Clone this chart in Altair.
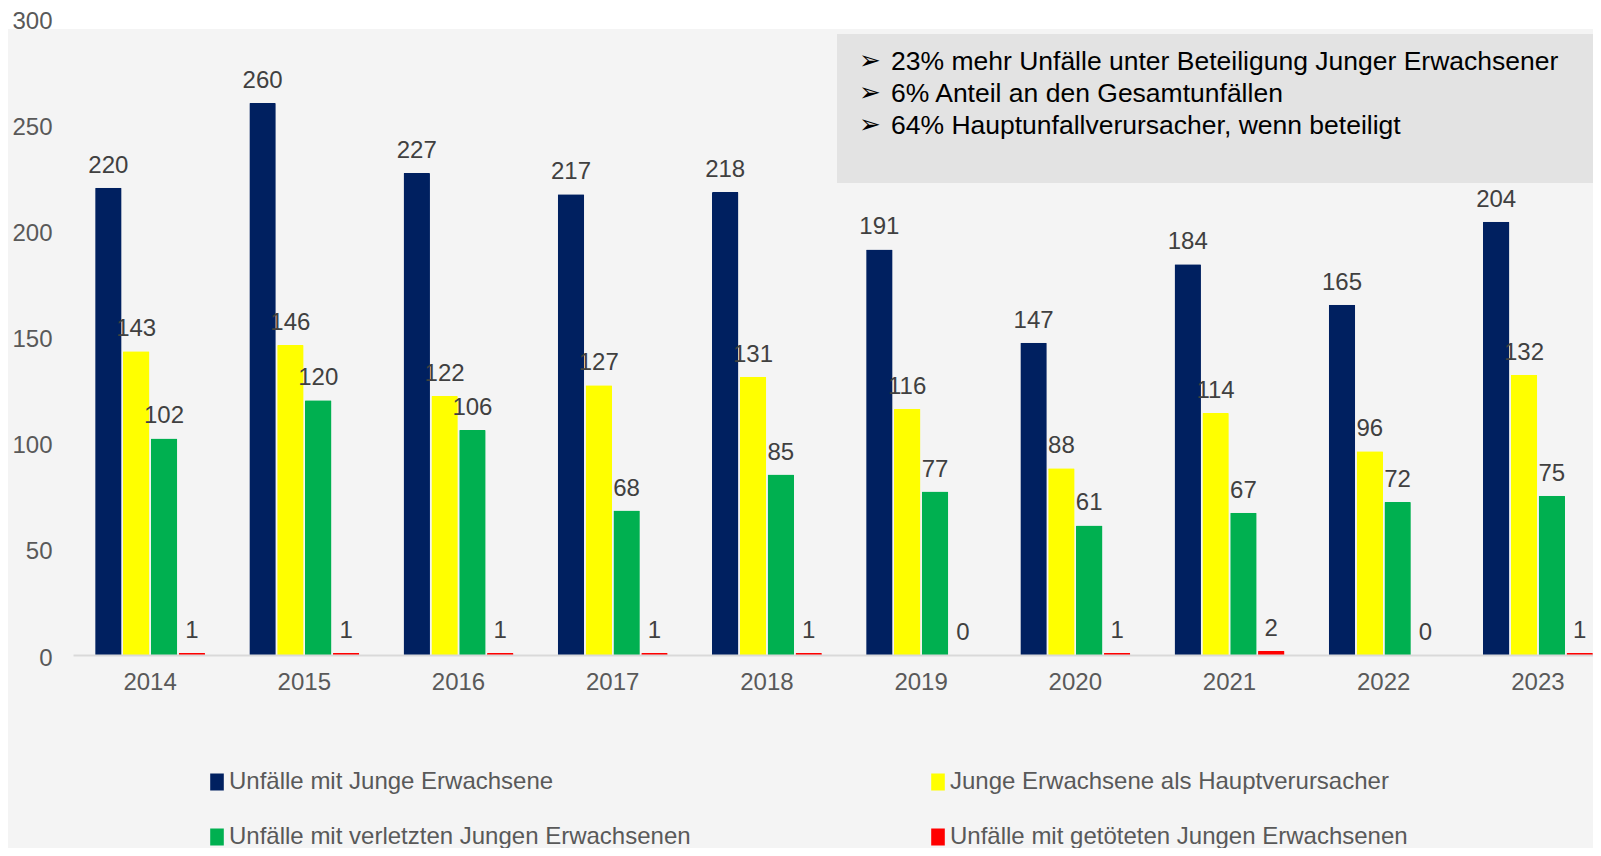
import altair as alt
import pandas as pd

YEARS = ["2014", "2015", "2016", "2017", "2018", "2019", "2020", "2021", "2022", "2023"]
SERIES = [
    "Unfälle mit Junge Erwachsene",
    "Junge Erwachsene als Hauptverursacher",
    "Unfälle mit verletzten Jungen Erwachsenen",
    "Unfälle mit getöteten Jungen Erwachsenen",
]
COLORS = ["#002060", "#FFFF00", "#00B050", "#FF0000"]
UNFAELLE = [220, 260, 227, 217, 218, 191, 147, 184, 165, 204]
HAUPTVERURSACHER = [143, 146, 122, 127, 131, 116, 88, 114, 96, 132]
VERLETZT = [102, 120, 106, 68, 85, 77, 61, 67, 72, 75]
GETOETET = [1, 1, 1, 1, 1, 0, 1, 2, 0, 1]
Y_TICKS = [0, 50, 100, 150, 200, 250, 300]
ANNOT_LINES = [
    "23% mehr Unfälle unter Beteiligung Junger Erwachsener",
    "6% Anteil an den Gesamtunfällen",
    "64% Hauptunfallverursacher, wenn beteiligt",
]
BULLETS = ["➢", "➢", "➢"]

rows = []
for s, vals in zip(SERIES, [UNFAELLE, HAUPTVERURSACHER, VERLETZT, GETOETET]):
    for y, v in zip(YEARS, vals):
        rows.append({"Jahr": y, "Serie": s, "Wert": v})
df = pd.DataFrame(rows)

# legend is laid out column by column: order entries so rows read like the reference
LEGEND_ORDER = [SERIES[0], SERIES[2], SERIES[1], SERIES[3]]
LEGEND_COLORS = [COLORS[0], COLORS[2], COLORS[1], COLORS[3]]

FONT = "Liberation Sans"
W, H = 1520, 637
BOTTOM = 830

one = pd.DataFrame({"k": [0]})

bg = alt.Chart(one).mark_rect(color="#f4f4f4").encode(
    x=alt.value(-65), x2=alt.value(W), y=alt.value(11), y2=alt.value(BOTTOM)
)
box = alt.Chart(one).mark_rect(color="#e3e3e3").encode(
    x=alt.value(764), x2=alt.value(W), y=alt.value(16), y2=alt.value(165)
)
bullets = alt.Chart(one).mark_text(
    align="left", baseline="alphabetic", font="DejaVu Sans", fontSize=26,
    lineHeight=32, color="#000000"
).encode(x=alt.value(786), y=alt.value(51), text=alt.value(BULLETS))
annot = alt.Chart(one).mark_text(
    align="left", baseline="alphabetic", font=FONT, fontSize=26.5,
    lineHeight=32, color="#000000"
).encode(x=alt.value(818), y=alt.value(52), text=alt.value(ANNOT_LINES))

base = alt.Chart(df).encode(
    x=alt.X(
        "Jahr:N", sort=YEARS, title=None,
        scale=alt.Scale(range=[0, 1542], paddingInner=0.287, paddingOuter=0.1435),
        axis=alt.Axis(
            labelAngle=0, labelFont=FONT, labelFontSize=24, labelColor="#595959",
            labelPadding=15, ticks=False, domainColor="#d9d9d9", domainWidth=2,
            grid=False, zindex=1,
        ),
    ),
    xOffset=alt.XOffset(
        "Serie:N", sort=SERIES,
        scale=alt.Scale(domain=SERIES, paddingInner=0.05, paddingOuter=0),
    ),
    y=alt.Y(
        "Wert:Q", title=None,
        scale=alt.Scale(domain=[0, 300], nice=False),
        axis=alt.Axis(
            values=Y_TICKS, labelFont=FONT, labelFontSize=24, labelColor="#595959",
            labelPadding=21, ticks=False, domain=False, grid=False, labelOffset=3,
            zindex=1,
        ),
    ),
)

bars = base.mark_bar(cornerRadiusTopLeft=1, cornerRadiusTopRight=1).encode(
    color=alt.Color(
        "Serie:N",
        scale=alt.Scale(domain=LEGEND_ORDER, range=LEGEND_COLORS),
        legend=alt.Legend(
            title=None, orient="none", legendX=132, legendY=752, columns=2,
            columnPadding=235, rowPadding=31, padding=0,
            symbolType="M-0.8,-1H0.8V1H-0.8Z", symbolSize=289,
            symbolStrokeWidth=0, symbolOpacity=1,
            labelFont=FONT, labelFontSize=24, labelColor="#595959",
            labelOffset=0, labelLimit=700,
        ),
    )
)

labels = base.mark_text(
    baseline="alphabetic", dy=-15, font=FONT, fontSize=24, color="#404040"
).encode(text="Wert:Q")

chart = alt.layer(bg, box, bars, labels, bullets, annot).properties(
    width=W, height=H,
    autosize=alt.AutoSizeParams(type="none"),
    padding={"left": 65, "top": 10, "right": 0, "bottom": BOTTOM - H},
    background="white",
).configure_view(stroke=None)

chart.save("out.html", embed_options={"renderer": "svg", "actions": False})
